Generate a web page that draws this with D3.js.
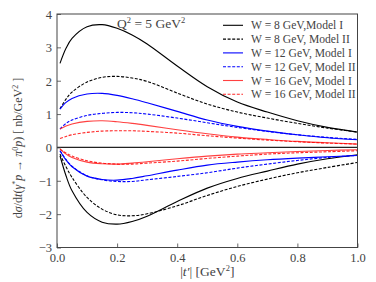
<!DOCTYPE html>
<html><head><meta charset="utf-8">
<script src="https://cdn.jsdelivr.net/npm/d3@7"></script>
<style>
body{margin:0;background:#fff;}
svg{display:block;}
text{font-family:"Liberation Serif","DejaVu Serif",serif;fill:#444;}
</style></head><body>
<svg id="c" width="376" height="282"></svg>
<script>
// ---- data ----
const tValues = [0.01,0.03,0.05,0.1,0.15,0.2,0.25,0.3,0.4,0.5,0.6,0.7,0.8,0.9,1.0];
const xTicks = [0.0,0.2,0.4,0.6,0.8,1.0];
const yTicks = [-3,-2,-1,0,1,2,3,4];
const legendLabels = ["W = 8 GeV,Model I","W = 8 GeV, Model II","W = 12 GeV, Model I","W = 12 GeV, Model II","W = 16 GeV, Model I","W = 16 GeV, Model II"];
const seriesColors = ["#000000","#000000","#0000ff","#0000ff","#ff2020","#ff0000"];
const seriesDashed = [false,true,false,true,false,true];

const w8I_pos  = [2.52,2.97,3.27,3.62,3.68,3.57,3.37,3.1,2.44,1.82,1.36,1.06,0.8,0.6,0.46];
const w8II_pos = [1.16,1.45,1.66,1.96,2.1,2.13,2.08,1.98,1.63,1.3,1.06,0.88,0.72,0.58,0.46];
const w12I_pos = [1.15,1.35,1.47,1.6,1.62,1.56,1.46,1.34,1.08,0.82,0.63,0.49,0.38,0.29,0.23];
const w12II_pos= [0.55,0.72,0.82,0.96,1.02,1.05,1.04,1.0,0.88,0.74,0.6,0.48,0.38,0.3,0.24];
const w16I_pos = [0.55,0.64,0.7,0.78,0.8,0.77,0.72,0.66,0.53,0.41,0.31,0.24,0.18,0.14,0.1];
const w16II_pos= [0.27,0.33,0.38,0.45,0.49,0.5,0.5,0.48,0.43,0.35,0.28,0.22,0.17,0.13,0.1];

const w8I_neg  = [-0.25,-0.85,-1.3,-1.95,-2.24,-2.3,-2.22,-2.06,-1.62,-1.22,-0.93,-0.71,-0.5,-0.34,-0.22];
const w8II_neg = [-0.2,-0.58,-0.9,-1.5,-1.85,-2.02,-2.05,-1.99,-1.75,-1.44,-1.17,-0.95,-0.76,-0.6,-0.45];
const w12I_neg = [-0.1,-0.38,-0.58,-0.86,-0.96,-0.98,-0.93,-0.85,-0.68,-0.53,-0.44,-0.37,-0.32,-0.28,-0.24];
const w12II_neg= [-0.1,-0.36,-0.56,-0.85,-0.97,-1.02,-1.02,-0.97,-0.87,-0.76,-0.62,-0.5,-0.39,-0.3,-0.24];
const w16I_neg = [-0.05,-0.2,-0.3,-0.44,-0.49,-0.5,-0.47,-0.43,-0.34,-0.26,-0.2,-0.16,-0.12,-0.09,-0.07];
const w16II_neg= [-0.05,-0.17,-0.26,-0.4,-0.47,-0.5,-0.5,-0.47,-0.41,-0.33,-0.26,-0.2,-0.16,-0.13,-0.1];

const posSeries = [w8I_pos,w8II_pos,w12I_pos,w12II_pos,w16I_pos,w16II_pos];
const negSeries = [w8I_neg,w8II_neg,w12I_neg,w12II_neg,w16I_neg,w16II_neg];

// ---- layout ----
const W=376,H=282;
const m={l:57,r:18.5,t:14,b:34.5};
const svg=d3.select("#c");
const x=d3.scaleLinear().domain([0,1]).range([m.l,W-m.r]);
const y=d3.scaleLinear().domain([-3,4]).range([H-m.b,m.t]);

const line=d3.line().x((d,i)=>x(tValues[i])).y(d=>y(d)).curve(d3.curveCatmullRom.alpha(0.5));

const g=svg.append("g");
[posSeries,negSeries].forEach(set=>{
  set.forEach((s,k)=>{
    g.append("path").attr("d",line(s)).attr("fill","none")
     .attr("stroke",seriesColors[k]).attr("stroke-width",1.1)
     .attr("stroke-opacity",k>=4?0.85:1)
     .attr("stroke-dasharray",seriesDashed[k]?"3,1.6":null);
  });
});

// zero line
svg.append("line").attr("x1",x(0)).attr("x2",x(1)).attr("y1",y(0)).attr("y2",y(0))
  .attr("stroke","#222").attr("stroke-width",1.3);

// axes
const xa=svg.append("g").attr("transform",`translate(0,${H-m.b})`)
  .call(d3.axisBottom(x).tickValues(xTicks).tickFormat(d3.format(".1f")).tickSizeInner(-4).tickSizeOuter(0));
const ya=svg.append("g").attr("transform",`translate(${m.l},0)`)
  .call(d3.axisLeft(y).tickValues(yTicks).tickFormat(d=>d<0?"\u2212"+Math.abs(d):d).tickSizeInner(-4).tickSizeOuter(0));
[xa,ya].forEach(a=>{
  a.select(".domain").remove();
  a.selectAll("line").attr("stroke","#444").attr("stroke-width",0.8);
  a.selectAll("text").attr("font-family",'"Liberation Serif","DejaVu Serif",serif').attr("font-size",12.5).attr("fill","#444");
});
xa.selectAll("text").attr("dy","0.95em").attr("y",3);
ya.selectAll("text").attr("x",-5).attr("dy","0.35em");

// frame
svg.append("rect").attr("x",m.l).attr("y",m.t).attr("width",W-m.l-m.r).attr("height",H-m.t-m.b)
  .attr("fill","none").attr("stroke","#444").attr("stroke-width",1);

// legend
const lx1=223,lx2=243,ltx=251,ly0=25.3,ldy=13.8;
legendLabels.forEach((lab,k)=>{
  const yy=ly0+k*ldy;
  svg.append("line").attr("x1",lx1).attr("x2",lx2).attr("y1",yy).attr("y2",yy)
    .attr("stroke",seriesColors[k]).attr("stroke-width",1.1)
    .attr("stroke-opacity",k>=4?0.85:1)
    .attr("stroke-dasharray",seriesDashed[k]?"3,1.6":null);
  svg.append("text").attr("x",ltx).attr("y",yy+4).attr("font-size",11.6).text(lab);
});

// Q^2 label
const q=svg.append("text").attr("x",117).attr("y",28).attr("font-size",13.5);
q.append("tspan").text("Q");
q.append("tspan").attr("font-size",8.5).attr("dy",-5).text("2");
q.append("tspan").attr("dy",5).text(" = 5 GeV");
q.append("tspan").attr("font-size",8.5).attr("dy",-5).text("2");

// x label
const xl=svg.append("text").attr("x",x(0.5)).attr("y",276).attr("text-anchor","middle").attr("font-size",13.5);
xl.append("tspan").text("|");
xl.append("tspan").attr("font-style","italic").text("t\u2032");
xl.append("tspan").text("|  [GeV");
xl.append("tspan").attr("font-size",8.5).attr("dy",-5).text("2");
xl.append("tspan").attr("dy",5).text("]");

// y label
const yl=svg.append("text").attr("transform","translate(22,148) rotate(-90)").attr("text-anchor","middle").attr("font-size",12);
yl.append("tspan").text("d");
yl.append("tspan").attr("font-style","italic").text("\u03c3");
yl.append("tspan").text("/d");
yl.append("tspan").attr("font-style","italic").text("t");
yl.append("tspan").text("(");
yl.append("tspan").attr("font-style","italic").text("\u03b3");
yl.append("tspan").attr("font-size",8).attr("dy",-4).text("*");
yl.append("tspan").attr("dy",4).attr("font-style","italic").text("p");
yl.append("tspan").text(" \u2192 ");
yl.append("tspan").attr("font-style","italic").text("\u03c0");
yl.append("tspan").attr("font-size",8).attr("dy",-4).text("0");
yl.append("tspan").attr("dy",4).attr("font-style","italic").text("p");
yl.append("tspan").text(") [ nb/GeV");
yl.append("tspan").attr("font-size",8).attr("dy",-4).text("2");
yl.append("tspan").attr("dy",4).text(" ]");
</script>
</body></html>
